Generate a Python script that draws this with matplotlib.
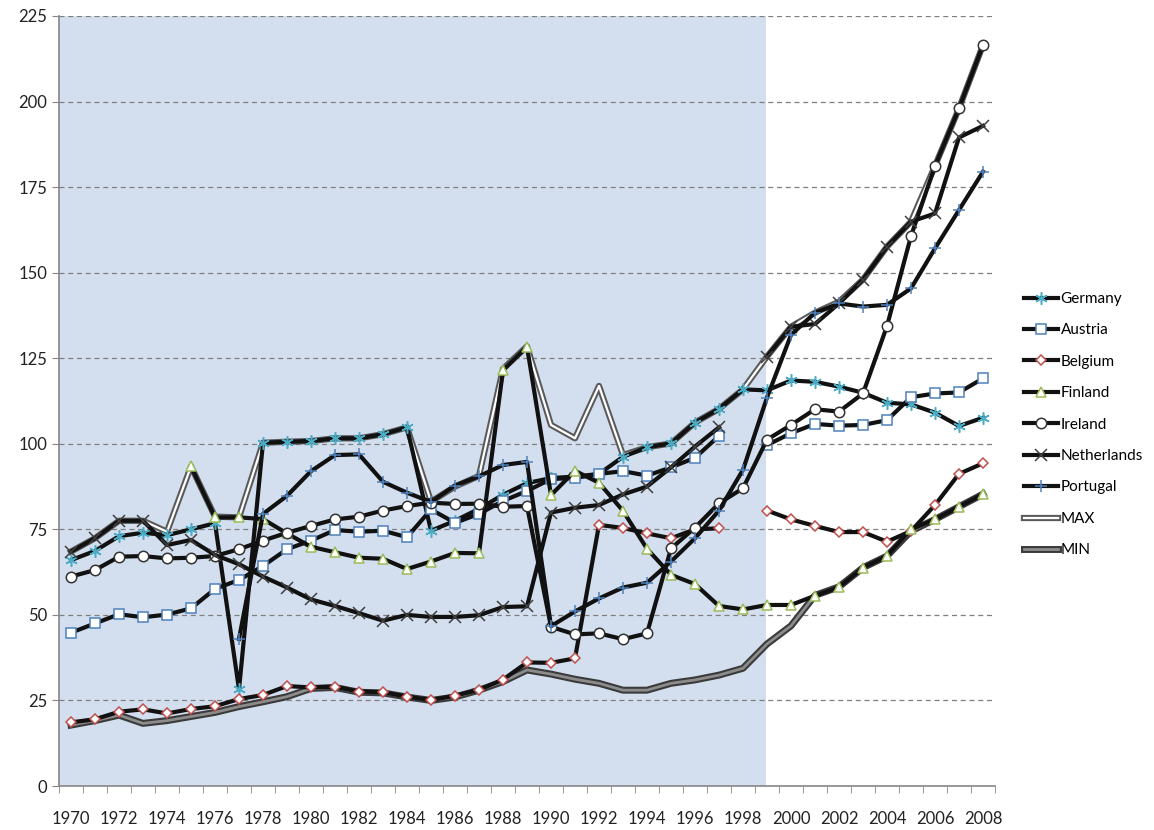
import matplotlib.pyplot as plt
import matplotlib.patheffects as pe
import numpy as np

nan = np.nan

years = list(range(1970, 2009))

germany = [66.0, 68.7, 73.0, 74.0, 73.3, 75.0, 76.8, 28.2, 100.3, 100.6,
           100.8, 101.6, 101.6, 102.8, 104.8, 74.6, 77.5, 81.0, 85.1, 88.5,
           90.0, 90.4, 91.2, 96.2, 99.0, 100.1, 106.2, 110.2, 115.9, 115.6,
           118.5, 118.1, 116.7, 114.9, 112.0, 111.5, 109.1, 105.2, 107.6]
austria = [44.8, 47.5, 50.2, 49.3, 50.1, 51.9, 57.6, 60.2, 64.3, 69.2,
           71.7, 74.8, 74.3, 74.6, 72.7, 80.8, 76.9, 79.5, 83.3, 86.2,
           89.7, 90.0, 91.2, 92.0, 90.7, 93.1, 95.9, 102.3, nan, 99.6,
           103.1, 105.8, 105.3, 105.5, 106.9, 113.6, 114.7, 115.0, 119.1]
belgium = [18.6, 19.5, 21.7, 22.4, 21.2, 22.5, 23.3, 25.4, 26.6, 29.2,
           28.8, 29.0, 27.6, 27.4, 26.1, 25.1, 26.4, 28.1, 31.1, 36.1,
           36.0, 37.3, 76.3, 75.4, 73.8, 72.4, 75.0, 75.3, nan, 80.5,
           77.9, 76.0, 74.2, 74.2, 71.4, 74.5, 82.1, 91.2, 94.3]
finland = [nan, nan, nan, nan, nan, 93.4, 78.5, 78.5, 78.0, 73.8,
           69.9, 68.3, 66.7, 66.4, 63.4, 65.6, 68.1, 68.0, 121.5, 128.4,
           85.0, 92.1, 88.6, 80.4, 69.3, 61.7, 59.0, 52.6, 51.6, 52.9,
           52.9, 55.6, 58.1, 63.8, 67.2, 75.0, 77.9, 81.6, 85.3]
ireland = [61.2, 63.1, 67.0, 67.2, 66.5, 66.7, 67.2, 69.2, 71.7, 74.0,
           76.0, 77.9, 78.7, 80.5, 81.8, 82.8, 82.4, 82.5, 81.6, 81.8,
           46.5, 44.3, 44.6, 42.9, 44.6, 69.4, 75.5, 82.6, 87.0, 101.2,
           105.5, 110.1, 109.4, 114.7, 134.4, 160.7, 181.2, 198.0, 216.5]
netherlands = [68.5, 72.4, 77.5, 77.5, 70.4, 71.9, 67.5, 64.8, 61.2, 58.0,
               54.5, 52.6, 50.5, 48.3, 50.0, 49.4, 49.4, 49.9, 52.3, 52.5,
               79.9, 81.3, 82.1, 85.2, 87.5, 93.1, 99.2, 104.8, nan, 125.5,
               134.2, 135.0, 141.0, 148.0, 157.6, 164.9, 167.3, 189.5, 192.9]
portugal = [nan, nan, nan, nan, nan, nan, nan, 43.0, 79.5, 84.8,
            92.0, 96.7, 96.9, 88.9, 85.7, 83.0, 87.8, 90.5, 93.8, 94.7,
            46.7, 51.0, 54.8, 58.0, 59.4, 65.6, 72.4, 80.5, 92.4, 113.5,
            131.8, 138.3, 141.0, 140.1, 140.6, 145.4, 157.1, 168.3, 179.5]
max_vals = [68.5, 72.4, 77.5, 77.5, 74.3, 93.4, 78.7, 78.5, 100.3, 100.6,
            100.8, 101.6, 101.6, 102.8, 104.8, 83.1, 87.5, 90.6, 121.9, 128.5,
            105.5, 101.6, 116.9, 96.7, 99.0, 100.1, 106.2, 110.2, 115.9, 125.5,
            134.2, 138.3, 141.5, 148.0, 157.6, 164.9, 181.2, 198.0, 216.5]
min_vals = [17.8, 19.1, 20.7, 18.3, 19.1, 20.3, 21.5, 23.2, 24.6, 26.1,
            28.5, 28.8, 27.4, 27.2, 26.0, 25.0, 26.0, 28.0, 30.5, 33.9,
            32.7, 31.2, 30.0, 28.0, 28.0, 30.0, 31.0, 32.4, 34.4, 41.5,
            46.8, 55.7, 58.2, 63.8, 67.2, 74.5, 77.9, 81.6, 85.3]

plt.rcParams['font.family'] = ['Lato', 'DejaVu Sans']

fig = plt.figure(figsize=(11.54, 8.30), dpi=100)
ax = fig.add_axes([59 / 1154, 44 / 830, 936 / 1154, 770 / 830])

# shaded period up to 1999
ax.axvspan(1969.5, 1998.95, color='#d3dfee', lw=0, zorder=0)

line_col = '#111111'
# (label, data, marker, edge colour, size, fill)
series = [
    ('Germany', germany, (6, 2, 0), '#4bacc6', 9, 'none'),
    ('Austria', austria, 's', '#4f81bd', 7.5, 'white'),
    ('Belgium', belgium, 'D', '#c0504d', 5.5, 'white'),
    ('Finland', finland, '^', '#9bbb59', 7.5, 'white'),
    ('Ireland', ireland, 'o', '#333333', 7.5, 'white'),
    ('Netherlands', netherlands, 'x', '#404040', 8, 'none'),
    ('Portugal', portugal, '+', '#4f81bd', 9, 'none'),
]
for name, vals, mk, ec, ms, fc in series:
    ax.plot(years, vals, color=line_col, lw=3, marker=mk, ms=ms,
            mec=ec, mfc=fc, mew=1.1, label=name, zorder=3)

ax.plot(years, max_vals, color='white', lw=1.6, label='MAX', zorder=2,
        path_effects=[pe.Stroke(linewidth=4.5, foreground='#595959'), pe.Normal()])
ax.plot(years, min_vals, color='#8c8c8c', lw=2, label='MIN', zorder=2,
        path_effects=[pe.Stroke(linewidth=5, foreground='#3a3a3a'), pe.Normal()])

ax.set_xlim(1969.5, 2008.5)
ax.set_ylim(0, 225)
ax.set_yticks(np.arange(0, 226, 25))
ax.set_xticks(years[::2])
ax.set_xticks(np.arange(1969.5, 2009, 1), minor=True)
ax.tick_params(axis='x', which='major', length=0, pad=18, labelsize=12, colors='#222222')
ax.tick_params(axis='x', which='minor', length=5, color='#868686')
ax.tick_params(axis='y', length=5, color='#868686', labelsize=12, colors='#222222')

ax.set_axisbelow('line')
ax.yaxis.grid(True, ls=(0, (4, 3)), color='#7f7f7f', lw=0.9)

for s in ['top', 'right']:
    ax.spines[s].set_visible(False)
for s in ['left', 'bottom']:
    ax.spines[s].set_color('#868686')
    ax.spines[s].set_linewidth(1.2)

ax.legend(loc='upper left', bbox_to_anchor=(1024 / 1154, 1 - 292 / 830),
          bbox_transform=fig.transFigure, frameon=False, fontsize=11,
          handlelength=2.2, handletextpad=0.2, labelspacing=1.14,
          borderaxespad=0, borderpad=0)

fig.savefig('out.png', dpi=100)
